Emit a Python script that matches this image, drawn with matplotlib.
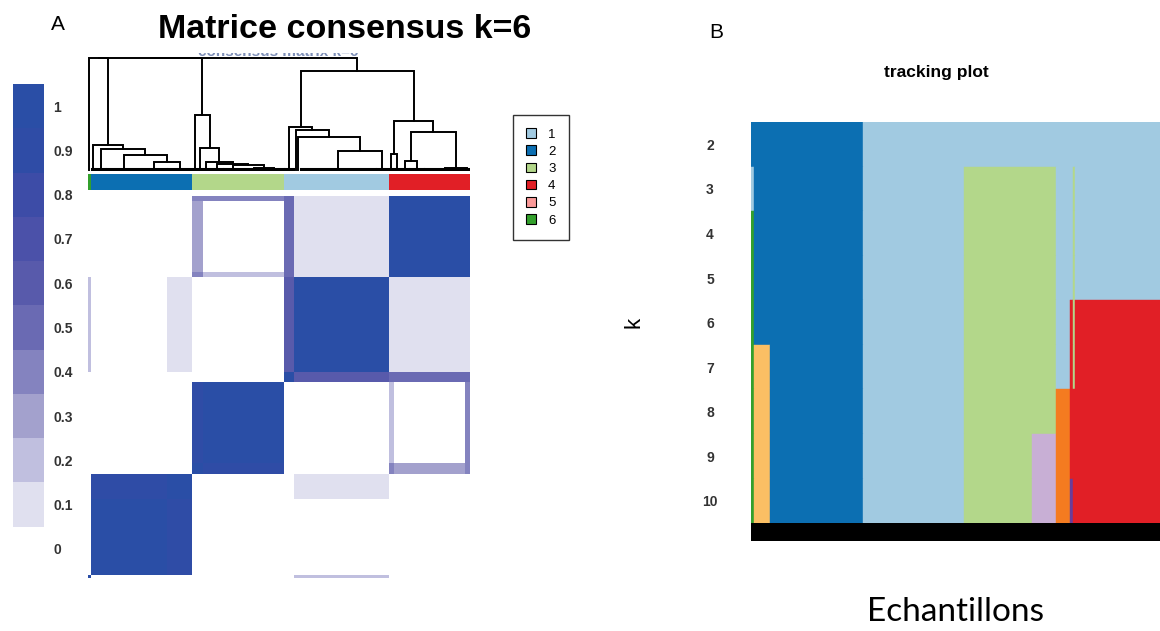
import numpy as np
import matplotlib
matplotlib.use("Agg")
import matplotlib.pyplot as plt
from matplotlib.colors import ListedColormap, BoundaryNorm, to_rgb
from matplotlib.patches import Patch
from matplotlib.transforms import Bbox, TransformedBbox

plt.rcParams["font.family"] = ["Liberation Sans", "DejaVu Sans"]

W, H = 1160, 631

# ---------------------------------------------------------------- data
# cluster colours (index = cluster id)
CLUSTER_COLORS = {1: "#a1cae1", 2: "#0c6fb2", 3: "#b3d78a", 4: "#e11f26",
                  5: "#fb9a99", 6: "#33a02c", 7: "#fbbf64", 8: "#f47b20",
                  9: "#c8afd5", 10: "#6a3d9a"}
LEGEND_IDS = [1, 2, 3, 4, 5, 6]

# consensus colour scale (0.1 .. 1)
CBAR_LEVELS = [0.1, 0.2, 0.3, 0.4, 0.5, 0.6, 0.7, 0.8, 0.9, 1.0]
CBAR_COLORS = ["#e0e0ef", "#c0bfdf", "#a3a1cd", "#8483bf", "#6a6ab3",
               "#585aab", "#4b51a9", "#3d4ca7", "#2f4ca6", "#2a4ea6"]
CBAR_LABELS = ["0", "0.1", "0.2", "0.3", "0.4", "0.5", "0.6", "0.7", "0.8", "0.9", "1"]

# consensus matrix k=6, by blocks of samples (in dendrogram order)
BLOCK_NAMES = ["S0", "BL", "BT", "GH", "GM", "LH", "LM", "RF", "RM", "RT"]
BLOCK_SIZES = [1, 30, 10, 4, 32, 4, 37, 2, 28, 2]
BLOCK_CLUSTER = [6, 2, 2, 3, 3, 1, 1, 4, 4, 4]
BLOCK_CONS = [
    # S0   BL   BT   GH   GM   LH   LM    RF    RM    RT
    [1.0, 0.0, 0.0, 0.0, 0.0, 0.0, 0.2, 0.0, 0.0, 0.0],   # S0
    [0.0, 1.0, 0.9, 0.0, 0.0, 0.0, 0.0, 0.0, 0.0, 0.0],   # BL
    [0.0, 0.9, 1.0, 0.0, 0.0, 0.0, 0.12, 0.0, 0.0, 0.0],  # BT
    [0.0, 0.0, 0.0, 1.0, 0.9, 0.0, 0.0, 0.4, 0.3, 0.4],   # GH
    [0.0, 0.0, 0.0, 0.9, 1.0, 0.0, 0.0, 0.25, 0.0, 0.4],  # GM
    [0.0, 0.0, 0.0, 0.0, 0.0, 1.0, 0.6, 0.5, 0.5, 0.5],   # LH
    [0.2, 0.0, 0.12, 0.0, 0.0, 0.6, 1.0, 0.14, 0.14, 0.14],  # LM
    [0.0, 0.0, 0.0, 0.4, 0.25, 0.5, 0.14, 1.0, 1.0, 1.0],  # RF
    [0.0, 0.0, 0.0, 0.3, 0.0, 0.5, 0.14, 1.0, 1.0, 1.0],  # RM
    [0.0, 0.0, 0.0, 0.4, 0.4, 0.5, 0.14, 1.0, 1.0, 1.0],  # RT
]

# dendrogram: leaf = group size, node = (height, left, right)
DENDRO = (1.0,
          (1.0,
           (1.0, 1, (0.22, 2, (0.19, 4, (0.13, 14, (0.07, 10, 10))))),
           (0.49, 2, (0.20, 2, (0.07, 3, (0.05, 5, (0.04, 8, (0.02, 8, 8))))))),
          (0.88,
           (0.38, 4, (0.36, 1, (0.29, 1, (0.17, 30, 5)))),
           (0.44, (0.14, 2, 3), (0.34, (0.08, 3, 6), (0.02, 16, 2)))))

# tracking plot: sample segments and the cluster of each segment for k=2..10
TRACK_K = [2, 3, 4, 5, 6, 7, 8, 9, 10]
SEG_WIDTHS = [1, 6, 34, 37, 25, 9, 5, 1, 1, 31]
TRACK_ROWS = [
    [2, 2, 2, 1, 1, 1, 1, 1, 1, 1],
    [1, 2, 2, 1, 3, 3, 1, 1, 3, 1],
    [6, 2, 2, 1, 3, 3, 1, 1, 3, 1],
    [6, 2, 2, 1, 3, 3, 1, 1, 3, 1],
    [6, 2, 2, 1, 3, 3, 1, 4, 3, 4],
    [6, 7, 2, 1, 3, 3, 1, 4, 3, 4],
    [6, 7, 2, 1, 3, 3, 8, 4, 4, 4],
    [6, 7, 2, 1, 3, 9, 8, 4, 4, 4],
    [6, 7, 2, 1, 3, 9, 8, 10, 4, 4],
]


def fax(fig, x0, y0, x1, y1):
    return fig.add_axes([x0 / W, 1 - y1 / H, (x1 - x0) / W, (y1 - y0) / H])


def dendro_layout(node, start, segs, flats, leaf_h=0.012):
    if isinstance(node, int):
        if node > 1:
            flats.append((start + 0.5, start + node - 0.5))
            return start + node / 2, leaf_h, start + node
        return start + 0.5, 0.0, start + 1
    h, left, right = node
    xl, hl, s = dendro_layout(left, start, segs, flats)
    xr, hr, e = dendro_layout(right, s, segs, flats)
    segs.append(([xl, xl, xr, xr], [hl, h, h, hr]))
    return (xl + xr) / 2, h, e


fig = plt.figure(figsize=(W / 100, H / 100), dpi=100)

# ---------------------------------------------------------------- panel A
labels = np.repeat(np.arange(len(BLOCK_SIZES)), BLOCK_SIZES)
n = len(labels)
cons = np.array(BLOCK_CONS)[labels][:, labels]

cmap = ListedColormap(["white"] + CBAR_COLORS)
norm = BoundaryNorm(np.linspace(-0.05, 1.05, 12), cmap.N)

ax_hm = fax(fig, 88, 196, 470, 578)
ax_hm.imshow(cons, origin="lower", extent=(0, n, 0, n), aspect="auto",
             cmap=cmap, norm=norm, interpolation="nearest")
ax_hm.set_axis_off()

ax_cs = fax(fig, 88, 174, 470, 190)
strip = np.array([to_rgb(CLUSTER_COLORS[BLOCK_CLUSTER[b]]) for b in labels])[None, :, :]
ax_cs.imshow(strip, extent=(0, n, 0, 1), aspect="auto", interpolation="nearest")
ax_cs.set_axis_off()

ax_dd = fax(fig, 88, 55, 470, 171)
segs, flats = [], []
dendro_layout(DENDRO, 0, segs, flats)
for xs, ys in segs:
    ax_dd.plot(xs, ys, color="black", lw=1.4, solid_joinstyle="miter")
for a, b in flats:
    ax_dd.plot([a, b], [0.012, 0.012], color="black", lw=2.2)
ax_dd.set_xlim(0, n)
ax_dd.set_ylim(-0.01, 1.027)
ax_dd.set_axis_off()

# colour key
ax_cb = fax(fig, 13, 84, 44, 571)
ax_cb.bar(np.zeros(len(CBAR_LEVELS)), np.ones(len(CBAR_LEVELS)),
          bottom=np.arange(1, len(CBAR_LEVELS) + 1), width=1.0,
          color=CBAR_COLORS, linewidth=0)
ax_cb.set_xlim(-0.5, 0.5)
ax_cb.set_ylim(0, len(CBAR_LEVELS) + 1)
for s in ax_cb.spines.values():
    s.set_visible(False)
ax_cb.set_xticks([])
ax_cb.yaxis.tick_right()
ax_cb.set_yticks(np.arange(len(CBAR_LABELS)) + 0.5, CBAR_LABELS)
ax_cb.tick_params(axis="y", length=0, pad=6.5, labelsize=10, labelcolor="#333333")
for t in ax_cb.get_yticklabels():
    t.set_fontweight("bold")

# legend
handles = [Patch(facecolor=CLUSTER_COLORS[i], edgecolor="black", linewidth=0.8)
           for i in LEGEND_IDS]
leg = fig.legend(handles, [str(i) for i in LEGEND_IDS], loc="upper left",
                 bbox_to_anchor=(513 / W, 1 - 115 / H), borderaxespad=0,
                 frameon=True, fancybox=False, edgecolor="black", fontsize=9.5,
                 handlelength=0.75, handleheight=0.75, handletextpad=0.9,
                 labelspacing=0.36, borderpad=1.0)
leg.get_frame().set_linewidth(1.0)
leg.get_frame().set_facecolor("white")

# faint underlying R title, only its lower edge peeks out under the big title
faint = fig.text(278 / W, 1 - 56 / H, "consensus matrix k=6", ha="center",
                 va="baseline", fontsize=11, fontweight="bold", color="#7f90b8")
clip = TransformedBbox(Bbox([[150 / W, 1 - 56.5 / H], [410 / W, 1 - 52.5 / H]]),
                       fig.transFigure)
faint.set_clip_box(clip)
faint.set_clip_on(True)

fig.text(345 / W, 1 - 30 / H, "Matrice consensus k=6", ha="center", va="center",
         fontsize=24.5, fontweight="bold", color="black")
fig.text(58 / W, 1 - 24 / H, "A", ha="center", va="center", fontsize=15)

# ---------------------------------------------------------------- panel B
ax_tr = fax(fig, 751, 122, 1160, 541)
lefts = np.concatenate([[0], np.cumsum(SEG_WIDTHS)[:-1]])
for k, row in zip(TRACK_K, TRACK_ROWS):
    cols = [CLUSTER_COLORS[c] for c in row]
    ax_tr.barh(np.full(len(SEG_WIDTHS), k), SEG_WIDTHS, left=lefts, height=1.0,
               color=cols, edgecolor=cols, linewidth=0.3)
ntr = sum(SEG_WIDTHS)
ax_tr.barh(10.7, ntr, left=0, height=0.4, color="black", linewidth=0)
ax_tr.set_xlim(0, ntr)
ax_tr.set_ylim(10.9, 1.5)
for s in ax_tr.spines.values():
    s.set_visible(False)
ax_tr.set_xticks([])
ax_tr.set_yticks(TRACK_K, [str(k) for k in TRACK_K])
ax_tr.tick_params(axis="y", length=0, pad=29.5, labelsize=10, labelcolor="#333333")
for t in ax_tr.get_yticklabels():
    t.set_ha("center")
    t.set_fontweight("bold")

fig.text(936 / W, 1 - 73 / H, "tracking plot", ha="center", va="center",
         fontsize=12.5, fontweight="bold")
fig.text(634 / W, 1 - 322 / H, "k", ha="center", va="center", fontsize=16, rotation=90)
fig.text(955 / W, 1 - 612 / H, "Echantillons", ha="center", va="center",
         fontsize=24, family=["Lato", "DejaVu Sans"])
fig.text(716 / W, 1 - 32 / H, "B", ha="center", va="center", fontsize=15)

fig.savefig("out.png", dpi=100)
